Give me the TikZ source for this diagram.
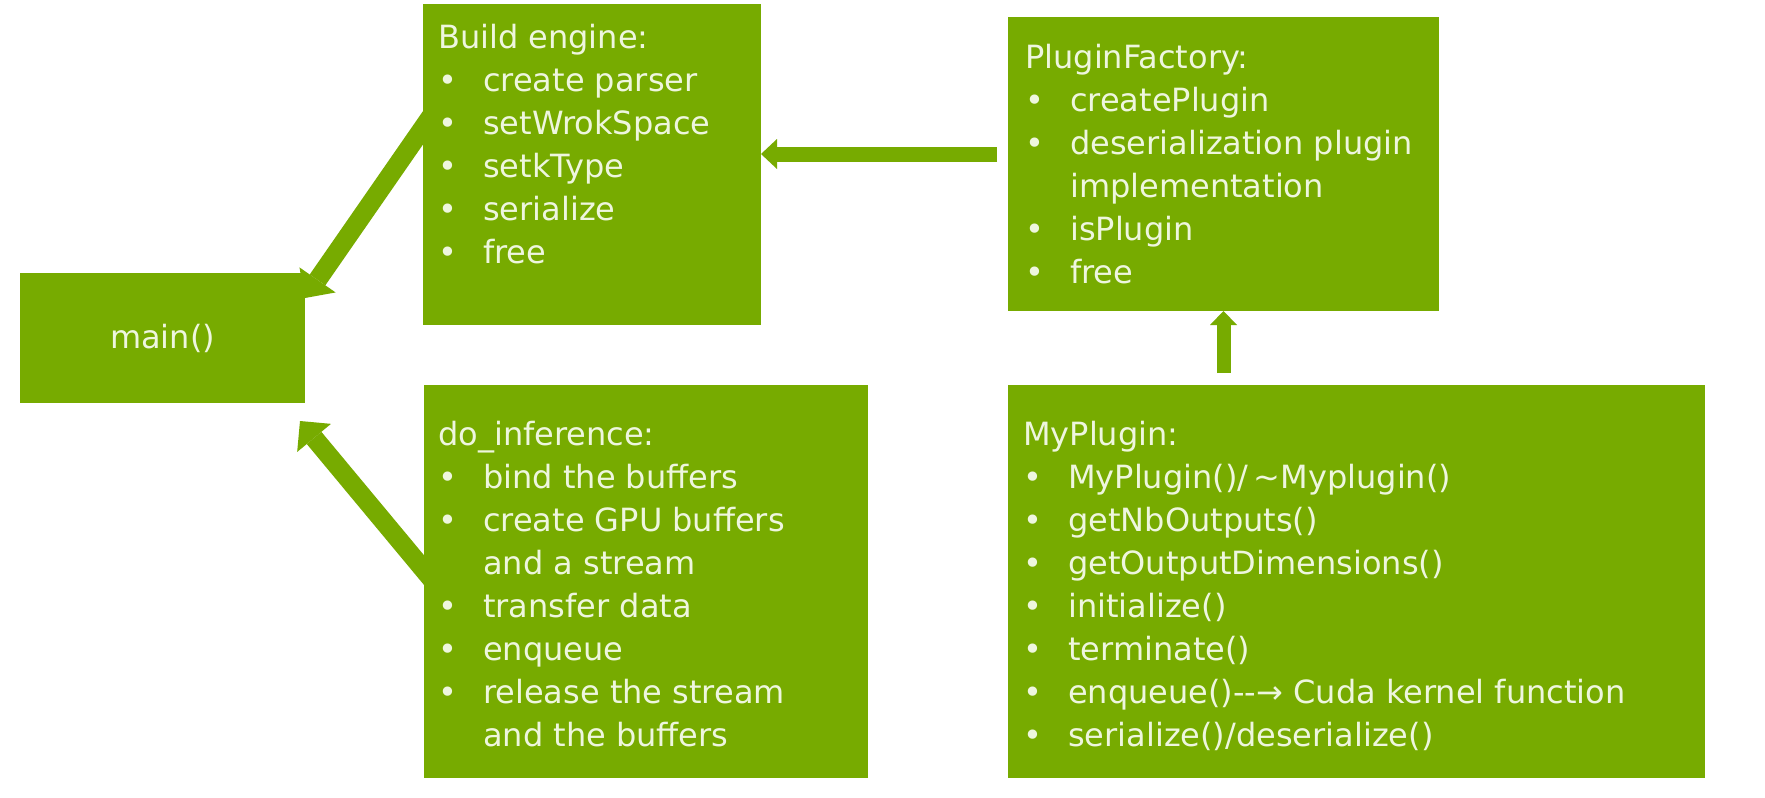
\documentclass[tikz,border=0pt]{standalone}
\usepackage{fontspec}
\setmainfont{DejaVu Sans}
\usetikzlibrary{arrows.meta}
\definecolor{nvgreen}{RGB}{119,171,0}
\definecolor{paletext}{RGB}{238,246,222}
% bullet item and continuation line
\newcommand{\bl}[1]{\makebox[45pt][l]{•}#1}
\newcommand{\cont}[1]{\makebox[45pt][l]{}#1}
\newcommand{\boxlines}[1]{\begin{tabular}[t]{@{}l@{}}#1\end{tabular}}

\begin{document}
\begin{tikzpicture}[x=1pt,y=-1pt,
    box/.style={fill=nvgreen,anchor=north west,inner sep=0pt,outer sep=0pt},
    boxtext/.style={text=paletext,font=\fontsize{32}{43}\selectfont,anchor=base west,inner sep=0pt},
    fatarrow/.style={draw=nvgreen}]
        % page
        \useasboundingbox[fill=white] (0,0) rectangle (1765,798);
        % boxes
        \node[box,minimum width=285pt,minimum height=130pt,text=paletext,font=\fontsize{32}{43}\selectfont] (main) at (20,273) {main()};
        \node[box,minimum width=338pt,minimum height=321pt] (build) at (423,4) {};
        \node[box,minimum width=431pt,minimum height=294pt] (pf) at (1008,17) {};
        \node[box,minimum width=444pt,minimum height=393pt] (doinf) at (424,385) {};
        \node[box,minimum width=697pt,minimum height=393pt] (myplug) at (1008,385) {};
        % arrows
        \draw[fatarrow,line width=19pt,-{Triangle[length=22pt,width=44pt,line width=0pt,fill=nvgreen]}] ([xshift=12pt,yshift=54pt]build.west) -- ([yshift=40pt]main.east);
        \draw[fatarrow,line width=19pt,-{Triangle[length=22pt,width=44pt,line width=0pt,fill=nvgreen]}] ([xshift=12pt,yshift=-3pt]doinf.west) -- ([xshift=-5pt,yshift=-18pt]main.south east);
        \draw[fatarrow,line width=15pt,-{Triangle[length=16pt,width=30pt,line width=0pt,fill=nvgreen]}] ([xshift=-11pt,yshift=10pt]pf.west) -- ([yshift=10.5pt]build.east);
        \draw[fatarrow,line width=14pt,-{Triangle[length=14pt,width=27pt,line width=0pt,fill=nvgreen]}] ([yshift=12pt]pf.south |- myplug.north) -- (pf.south);
        % box texts
        \node[boxtext] (buildtxt) at ([xshift=15pt,yshift=-44pt]build.north west)
            {\boxlines{Build engine:\\ \bl{create parser}\\ \bl{setWrokSpace}\\ \bl{setkType}\\ \bl{serialize}\\ \bl{free}}};
        \node[boxtext] (pftxt) at ([xshift=17pt,yshift=-51pt]pf.north west)
            {\boxlines{PluginFactory:\\ \bl{createPlugin}\\ \bl{deserialization plugin}\\ \cont{implementation}\\ \bl{isPlugin}\\ \bl{free}}};
        \node[boxtext] (doinftxt) at ([xshift=14pt,yshift=-60pt]doinf.north west)
            {\boxlines{do\_inference:\\ \bl{bind the buffers}\\ \bl{create GPU buffers}\\ \cont{and a stream}\\ \bl{transfer data}\\ \bl{enqueue}\\ \bl{release the stream}\\ \cont{and the buffers}}};
        \node[boxtext] (myplugtxt) at ([xshift=15pt,yshift=-60pt]myplug.north west)
            {\boxlines{MyPlugin:\\ \bl{MyPlugin()/\,\textasciitilde Myplugin()}\\ \bl{getNbOutputs()}\\ \bl{getOutputDimensions()}\\ \bl{initialize()}\\ \bl{terminate()}\\ \bl{enqueue()-{}-→ Cuda kernel function}\\ \bl{serialize()/deserialize()}}};
\end{tikzpicture}
\end{document}
